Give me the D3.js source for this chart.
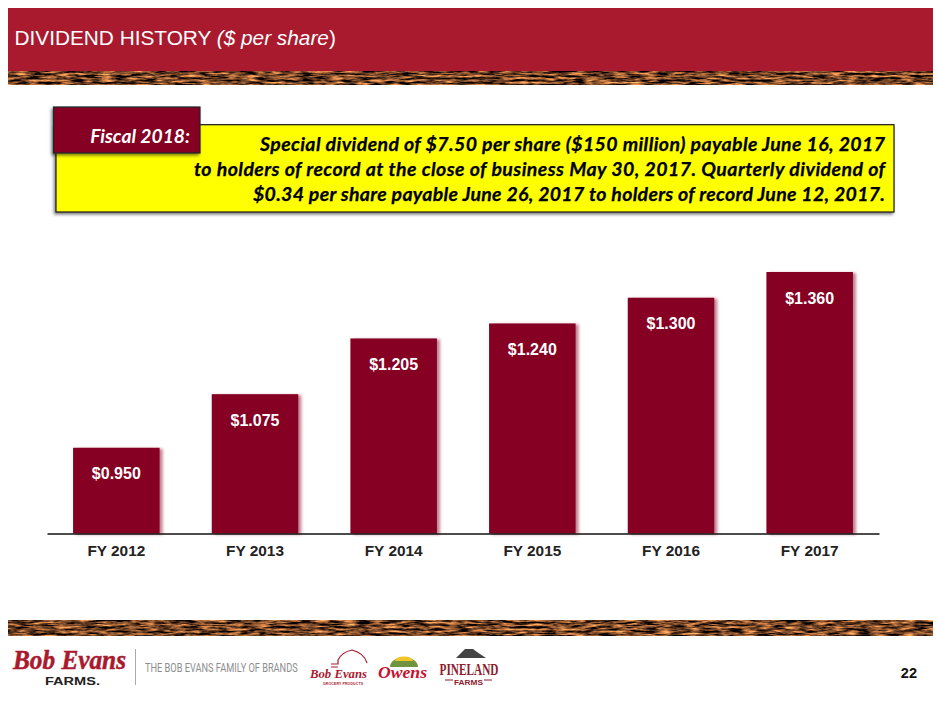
<!DOCTYPE html>
<html>
<head>
  <meta charset="UTF-8">
  <title>Dividend History</title>
  <script src="https://d3js.org/d3.v7.min.js"></script>
  <style>
    html, body { margin: 0; padding: 0; background: #fff; }
    svg { display: block; }
    .sans { font-family: "Liberation Sans", Arial, sans-serif; }
    .note { font-family: Lato, "Open Sans", sans-serif; font-weight: 700; font-style: italic; }
  </style>
</head>
<body>
  <svg id="chart" width="940" height="705"></svg>

  <script>
    // data
    var categories = ["FY 2012", "FY 2013", "FY 2014", "FY 2015", "FY 2016", "FY 2017"];
    var dividends = [0.950, 1.075, 1.205, 1.240, 1.300, 1.360];
    var noteLines = [
      "Special dividend of $7.50 per share ($150 million) payable June 16, 2017",
      "to holders of record at the close of business May 30, 2017. Quarterly dividend of",
      "$0.34 per share payable June 26, 2017 to holders of record June 12, 2017."
    ];

    var svg = d3.select("#chart");
    var defs = svg.append("defs");

    // bar shadow, soft and pink, to the right
    var barShadow = defs.append("filter").attr("id", "barShadow")
      .attr("x", "-10%").attr("y", "-10%").attr("width", "125%").attr("height", "120%");
    barShadow.append("feDropShadow")
      .attr("dx", 3).attr("dy", 1).attr("stdDeviation", 1.6)
      .attr("flood-color", "#850021").attr("flood-opacity", 0.5);

    var boxShadow = defs.append("filter").attr("id", "boxShadow")
      .attr("x", "-5%").attr("y", "-10%").attr("width", "110%").attr("height", "125%");
    boxShadow.append("feDropShadow")
      .attr("dx", -1.5).attr("dy", 2).attr("stdDeviation", 1.5)
      .attr("flood-color", "#000").attr("flood-opacity", 0.5);

    // wood strip, stretched noise mapped to browns
    var wood = defs.append("filter").attr("id", "wood")
      .attr("color-interpolation-filters", "sRGB")
      .attr("x", 0).attr("y", 0).attr("width", "100%").attr("height", "100%");
    wood.append("feTurbulence")
      .attr("type", "fractalNoise").attr("baseFrequency", "0.07 0.45")
      .attr("numOctaves", 4).attr("seed", 11).attr("result", "n");
    wood.append("feColorMatrix").attr("type", "matrix")
      .attr("values", "2.0 0 0 0 -0.55  1.3 0 0 0 -0.38  0.7 0 0 0 -0.2  0 0 0 0 1");

    // header
    svg.append("rect").attr("x", 8).attr("y", 8).attr("width", 925).attr("height", 63).attr("fill", "#a91a2e");
    svg.append("rect").attr("x", 8).attr("y", 71).attr("width", 925).attr("height", 14)
      .attr("fill", "#6b3a1e").attr("filter", "url(#wood)");
    var title = svg.append("text").attr("class", "sans")
      .attr("x", 14.5).attr("y", 45).attr("font-size", 20.8).attr("fill", "#fff");
    title.append("tspan").text("DIVIDEND HISTORY ");
    title.append("tspan").attr("font-style", "italic").text("($ per share");
    title.append("tspan").text(")");

    // callout, line widths taken from the slide since Lato runs wider than its font
    var noteWidths = [625, 691, 632];
    svg.append("rect").attr("x", 56).attr("y", 124.7).attr("width", 838).attr("height", 87.3)
      .attr("fill", "#ffff00").attr("stroke", "#1a1a1a").attr("stroke-width", 1.2)
      .attr("filter", "url(#boxShadow)");
    svg.selectAll(".noteLine").data(noteLines).enter().append("text")
      .attr("class", "note noteLine")
      .attr("x", 885).attr("y", function(d, i) { return 150.5 + i * 25; })
      .attr("text-anchor", "end").attr("font-size", 19.5)
      .attr("textLength", function(d, i) { return noteWidths[i]; })
      .attr("fill", "#000").attr("stroke", "#000").attr("stroke-width", 0.25)
      .text(function(d) { return d; });
    svg.append("rect").attr("x", 53.5).attr("y", 107).attr("width", 146.5).attr("height", 46)
      .attr("fill", "#850021").attr("stroke", "#1f2a2a").attr("stroke-width", 1.2)
      .attr("filter", "url(#boxShadow)");
    svg.append("text").attr("class", "note")
      .attr("x", 190).attr("y", 143).attr("text-anchor", "end")
      .attr("font-size", 19.3).attr("fill", "#fff").text("Fiscal 2018:");

    // chart, the value axis starts at 0.75 on the slide
    var x = d3.scaleBand().domain(categories).range([47, 879]).paddingInner(0.376).paddingOuter(0.188);
    var y = d3.scaleLinear().domain([0.75, 1.36]).range([533.5, 272]);
    var data = categories.map(function(c, i) { return { cat: c, val: dividends[i] }; });

    svg.selectAll(".bar").data(data).enter().append("rect")
      .attr("class", "bar")
      .attr("x", function(d) { return x(d.cat); })
      .attr("y", function(d) { return y(d.val); })
      .attr("width", x.bandwidth())
      .attr("height", function(d) { return y.range()[0] - y(d.val); })
      .attr("fill", "#850021")
      .attr("filter", "url(#barShadow)");

    svg.selectAll(".val").data(data).enter().append("text")
      .attr("class", "sans val")
      .attr("x", function(d) { return x(d.cat) + x.bandwidth() / 2; })
      .attr("y", function(d) { return y(d.val) + 31.5; })
      .attr("text-anchor", "middle").attr("font-size", 16).attr("font-weight", 700)
      .attr("fill", "#fff")
      .text(function(d) { return "$" + d.val.toFixed(3); });

    var axis = svg.append("g").attr("class", "sans")
      .attr("transform", "translate(0,533.5)")
      .call(d3.axisBottom(x).tickSize(0).tickPadding(12));
    axis.select(".domain").attr("stroke", "#111").attr("stroke-width", 1.3);
    axis.selectAll("text")
      .attr("font-family", "Liberation Sans").attr("font-size", 15.4)
      .attr("font-weight", 700).attr("fill", "#222");

    // footer
    svg.append("rect").attr("x", 8).attr("y", 620.5).attr("width", 925).attr("height", 15)
      .attr("fill", "#6b3a1e").attr("filter", "url(#wood)");

    var script = "Liberation Serif";
    svg.append("text").attr("x", 13).attr("y", 669).attr("font-family", script)
      .attr("font-style", "italic").attr("font-weight", 700).attr("font-size", 27)
      .attr("fill", "#a91a2e").attr("stroke", "#a91a2e").attr("stroke-width", 0.5)
      .attr("textLength", 113).attr("lengthAdjust", "spacingAndGlyphs").text("Bob Evans");
    svg.append("text").attr("class", "sans").attr("x", 45).attr("y", 684.5)
      .attr("font-weight", 700).attr("font-size", 10).attr("fill", "#222")
      .attr("textLength", 55).attr("lengthAdjust", "spacingAndGlyphs").text("FARMS.");
    svg.append("line").attr("x1", 135.5).attr("x2", 135.5).attr("y1", 649).attr("y2", 685)
      .attr("stroke", "#aaa");

    // condensed by scaling, the slide's strapline is tall and narrow
    var strap = svg.append("text").attr("font-family", "Roboto")
      .attr("font-size", 12).attr("fill", "#8d8d8d").text("THE BOB EVANS FAMILY OF BRANDS");
    strap.attr("transform", "translate(145,672) scale(" + (153 / strap.node().getComputedTextLength()) + ",1)");

    // small brand marks
    svg.append("path").attr("d", "M331 664 h7 v-4 q4 -8 14 -10 q12 3 15 13 M331 667 h7")
      .attr("fill", "none").attr("stroke", "#a91a2e").attr("stroke-width", 1.2);
    svg.append("text").attr("x", 310).attr("y", 678).attr("font-family", script)
      .attr("font-style", "italic").attr("font-weight", 700).attr("font-size", 13)
      .attr("fill", "#a91a2e").attr("textLength", 57).attr("lengthAdjust", "spacingAndGlyphs").text("Bob Evans");
    svg.append("text").attr("class", "sans").attr("x", 323).attr("y", 684.5)
      .attr("font-weight", 700).attr("font-size", 3.5).attr("fill", "#a91a2e")
      .attr("textLength", 40).text("GROCERY PRODUCTS");

    svg.append("path").attr("d", "M390 667 a14 10 0 0 1 28 0 z").attr("fill", "#6f9440");
    svg.append("path").attr("d", "M395 661 a9 4.5 0 0 1 18 0 z").attr("fill", "#f2c62a");
    svg.append("text").attr("x", 378).attr("y", 677.5).attr("font-family", script)
      .attr("font-style", "italic").attr("font-weight", 700).attr("font-size", 17).attr("fill", "#c8102e")
      .attr("textLength", 49).attr("lengthAdjust", "spacingAndGlyphs").text("Owens");

    svg.append("path").attr("d", "M456 658 l5 -5 l4 -4 l8 0 l4 3 l3 2 l6 4 z").attr("fill", "#444");
    svg.append("text").attr("font-family", script).attr("x", 439.5).attr("y", 675)
      .attr("font-weight", 700).attr("font-size", 17).attr("fill", "#8e1b2d")
      .attr("textLength", 59).attr("lengthAdjust", "spacingAndGlyphs").text("PINELAND");
    svg.append("text").attr("class", "sans").attr("x", 454).attr("y", 684.5)
      .attr("font-weight", 700).attr("font-size", 7.5).attr("fill", "#8e1b2d")
      .attr("textLength", 29).attr("lengthAdjust", "spacingAndGlyphs").text("FARMS");
    svg.selectAll(".rule").data([[445, 453], [484, 492]]).enter().append("line")
      .attr("x1", function(d) { return d[0]; }).attr("x2", function(d) { return d[1]; })
      .attr("y1", 680).attr("y2", 680).attr("stroke", "#8e1b2d");

    svg.append("text").attr("class", "sans").attr("x", 917).attr("y", 678)
      .attr("text-anchor", "end").attr("font-weight", 700).attr("font-size", 14.5)
      .attr("fill", "#111").text("22");
  </script>
</body>
</html>
